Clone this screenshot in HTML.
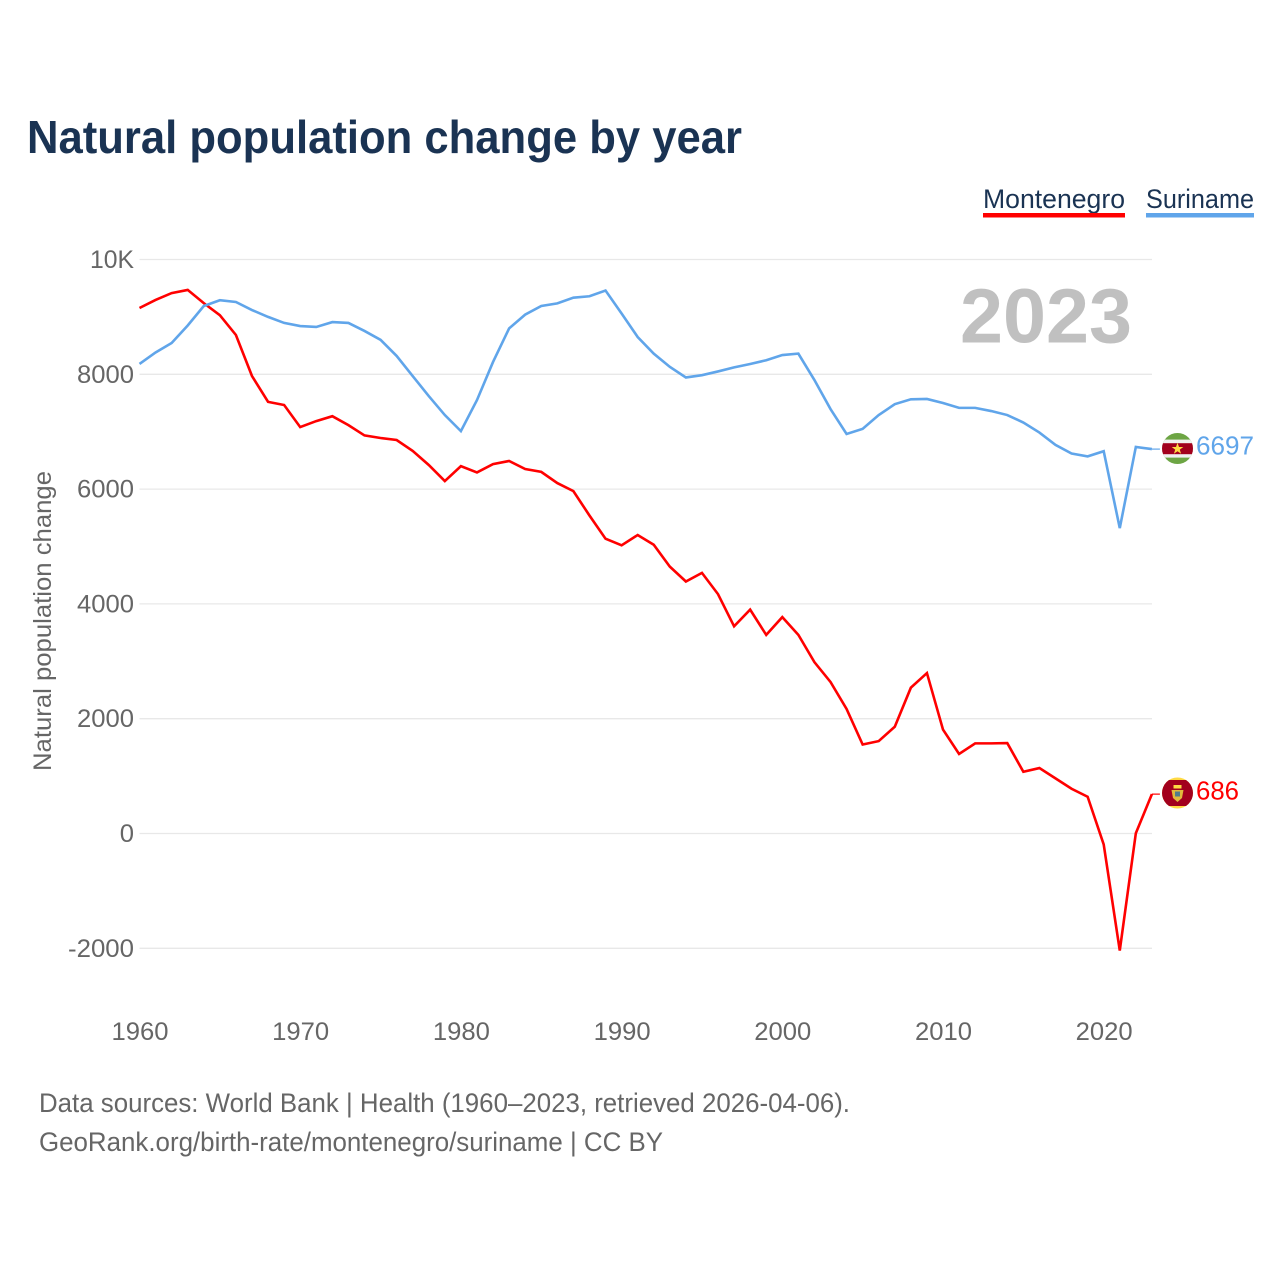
<!DOCTYPE html>
<html lang="en">
<head>
<meta charset="utf-8">
<title>Natural population change by year</title>
<style>
html,body{margin:0;padding:0;background:#fff;}
body{width:1280px;height:1280px;overflow:hidden;}
svg{display:block;font-family:"Liberation Sans",sans-serif;}
</style>
</head>
<body>
<svg id="chart" xmlns="http://www.w3.org/2000/svg" width="1280" height="1280" viewBox="0 0 1280 1280">
  <defs>
    <clipPath id="flag-clip-sr"><circle cx="1177.5" cy="448.5" r="15.5"/></clipPath>
    <clipPath id="flag-clip-me"><circle cx="1177.5" cy="793" r="15.5"/></clipPath>
  </defs>
  <rect x="0" y="0" width="1280" height="1280" fill="#ffffff"/>
  <text x="27" y="153" font-size="46" font-weight="700" fill="#1a3353" textLength="715" lengthAdjust="spacingAndGlyphs">Natural population change by year</text>

  <g>
    <g>
      <text x="983" y="208" font-size="27" fill="#1a3353" textLength="142" lengthAdjust="spacingAndGlyphs">Montenegro</text>
      <rect x="983" y="213" width="142" height="4.5" fill="#ff0000"/>
    </g>
    <g>
      <text x="1146" y="208" font-size="27" fill="#1a3353" textLength="108" lengthAdjust="spacingAndGlyphs">Suriname</text>
      <rect x="1146" y="213" width="108" height="4.5" fill="#60a5ea"/>
    </g>
  </g>

  <g id="grid"></g>
  <g id="y-axis"></g>
  <g id="x-axis"></g>

  <text transform="translate(51 771) rotate(-90)" x="0" y="0" font-size="25" fill="#666666" textLength="300" lengthAdjust="spacingAndGlyphs">Natural population change</text>

  <text x="960" y="342.5" font-size="77" font-weight="700" fill="#c0c0c0" textLength="172" lengthAdjust="spacingAndGlyphs">2023</text>

  <g id="series"></g>

  <g clip-path="url(#flag-clip-sr)">
    <rect x="1160" y="432" width="36" height="34" fill="#6da544"/>
    <rect x="1160" y="439.6" width="36" height="18" fill="#f0f0f0"/>
    <rect x="1160" y="443.2" width="36" height="11" fill="#a2001d"/>
    <polygon points="1177.5,442.8 1179,447 1183.3,447 1179.8,449.6 1181.1,453.8 1177.5,451.2 1173.9,453.8 1175.2,449.6 1171.7,447 1176,447" fill="#ffda44"/>
  </g>
  <g clip-path="url(#flag-clip-me)">
    <rect x="1160" y="776" width="36" height="34" fill="#ffda44"/>
    <rect x="1160" y="780" width="36" height="26" fill="#a2001d"/>
    <rect x="1173.5" y="785" width="8" height="3.5" fill="#ffda44"/>
    <polygon points="1171.5,790 1183.5,790 1182,798 1177.5,802 1173,798" fill="#e0b93c"/>
    <rect x="1175" y="791.5" width="5" height="5" fill="#4f7d8c"/>
  </g>

  <text id="label-suriname" x="1196" y="454.5" font-size="26" fill="#60a5ea" textLength="58" lengthAdjust="spacingAndGlyphs"></text>
  <text id="label-montenegro" x="1196" y="799.5" font-size="26" fill="#ff0000" textLength="43" lengthAdjust="spacingAndGlyphs"></text>

  <g>
    <text x="39" y="1112" font-size="27" fill="#666666" textLength="811" lengthAdjust="spacingAndGlyphs">Data sources: World Bank | Health (1960–2023, retrieved 2026-04-06).</text>
    <text x="39" y="1151" font-size="27" fill="#666666" textLength="624" lengthAdjust="spacingAndGlyphs">GeoRank.org/birth-rate/montenegro/suriname | CC BY</text>
  </g>
</svg>
<script>
const firstYear = 1960;
const montenegroValues = [9155,9295,9415,9470,9240,9030,8685,7970,7520,7465,7080,7185,7270,7115,6935,6890,6855,6665,6420,6140,6400,6290,6435,6490,6350,6300,6105,5965,5540,5135,5020,5200,5030,4650,4390,4540,4170,3610,3900,3460,3770,3460,2985,2640,2170,1550,1610,1860,2540,2795,1810,1385,1570,1570,1575,1075,1140,960,780,640,-190,-2040,5,686];
const surinameValues = [8180,8380,8545,8850,9190,9290,9260,9120,9000,8895,8840,8825,8910,8895,8755,8600,8320,7970,7620,7290,7010,7550,8215,8800,9040,9190,9235,9335,9360,9460,9060,8650,8360,8130,7945,7985,8050,8120,8180,8245,8335,8360,7900,7395,6960,7050,7290,7480,7565,7570,7500,7415,7415,7360,7290,7160,6985,6770,6620,6570,6660,5320,6735,6697];
const yTickValues = [-2000,0,2000,4000,6000,8000,10000];
const yTickLabels = ["-2000","0","2000","4000","6000","8000","10K"];
const xTickYears = [1960,1970,1980,1990,2000,2010,2020];

const NS = 'http://www.w3.org/2000/svg';
function xScale(year){ return 139.5 + (year - 1960) * 16.07; }
function yScale(value){ return 833.5 - value * 0.0574; }
function make(tag, attrs, parent, text){
  const el = document.createElementNS(NS, tag);
  for (const k in attrs) el.setAttribute(k, attrs[k]);
  if (text !== undefined) el.textContent = text;
  parent.appendChild(el);
  return el;
}

const grid = document.getElementById('grid');
const yAxis = document.getElementById('y-axis');
const xAxis = document.getElementById('x-axis');
const series = document.getElementById('series');

yTickValues.forEach(function(v, i){
  const line = make('line', {x1:139.5, x2:1152, y1:yScale(v), y2:yScale(v), stroke:'#e8e8e8', 'stroke-width':1.3}, grid);
  
  
  const label = yTickLabels[i];
  const w = label === '10K' ? 44 : label === '-2000' ? 66 : label.length * 14.25;
  const t = make('text', {x:134 - w, y:yScale(v) + 8.5, 'font-size':25, fill:'#666666', textLength:w, lengthAdjust:'spacingAndGlyphs'}, yAxis, label);
  
  
});

xTickYears.forEach(function(y){
  const t = make('text', {x:xScale(y) - 28, y:1040, 'font-size':25, fill:'#666666', textLength:57, lengthAdjust:'spacingAndGlyphs'}, xAxis, String(y));
  
  
});

function pathFor(values){
  return values.map(function(v, i){
    return (i ? 'L' : 'M') + xScale(firstYear + i).toFixed(2) + ' ' + yScale(v).toFixed(2);
  }).join(' ');
}

const lineMontenegro = make('path', {d:pathFor(montenegroValues), fill:'none', stroke:'#ff0000', 'stroke-width':2.6, 'stroke-linejoin':'miter'}, series);


const lineSuriname = make('path', {d:pathFor(surinameValues), fill:'none', stroke:'#60a5ea', 'stroke-width':2.6, 'stroke-linejoin':'miter'}, series);



const lastM = montenegroValues[montenegroValues.length - 1];
const lastS = surinameValues[surinameValues.length - 1];
const lastX = xScale(firstYear + montenegroValues.length - 1);
const connM = make('line', {x1:lastX, x2:lastX + 8, y1:yScale(lastM), y2:yScale(lastM), stroke:'#ff0000', 'stroke-width':1.2}, series);


const connS = make('line', {x1:lastX, x2:lastX + 8, y1:yScale(lastS), y2:yScale(lastS), stroke:'#60a5ea', 'stroke-width':1.2}, series);



document.getElementById('label-montenegro').textContent = String(lastM);
document.getElementById('label-suriname').textContent = String(lastS);
</script>
</body>
</html>
